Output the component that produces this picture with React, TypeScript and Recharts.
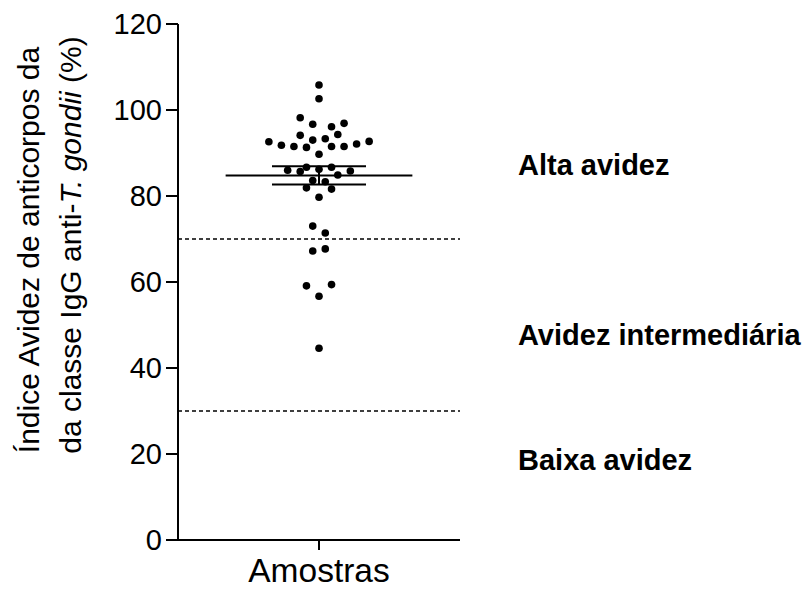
import React from 'react';
import { ScatterChart, Scatter, XAxis, YAxis, ReferenceLine } from 'recharts';

const categories = ['Amostras'];
const yTicks = [0, 20, 40, 60, 80, 100, 120];
const cutoffs = [70, 30];
const zoneLabels = ['Alta avidez', 'Avidez intermediária', 'Baixa avidez'];

// avidity index (%) for each sample
const values = [
  105.8, 102.6, 98.2, 96.7, 96.1, 96.9, 94.1, 94.3, 93.0, 93.3,
  92.6, 91.8, 91.5, 91.3, 91.5, 91.5, 92.1, 92.7, 89.7, 86.0,
  85.7, 86.7, 86.2, 86.7, 85.8, 84.9, 83.6, 83.3, 81.9, 81.6,
  79.7, 73.0, 71.4, 67.2, 67.7, 59.1, 59.4, 56.7, 44.6,
];
// beeswarm column of each sample (scatter spread around the category)
const columns = [
  0, 0, -3, -1, 2, 4, -3, 3, -1, 1,
  -8, -6, -4, -2, 2, 4, 6, 8, 0, -5,
  -3, -2, 0, 2, 5, 3, -1, 1, -2, 2,
  0, -1, 1, -1, 1, -2, 2, 0, 0,
];

const data = values.map((v, i) => ({ col: columns[i], value: v }));
const mean = values.reduce((a, b) => a + b, 0) / values.length;
const sd = Math.sqrt(values.reduce((a, b) => a + (b - mean) ** 2, 0) / (values.length - 1));
const sem = sd / Math.sqrt(values.length);

const FONT = '"Liberation Sans", Arial, Helvetica, sans-serif';
const W = 805;
const H = 590;

const Dot = (props: any) => {
  const { cx, cy } = props;
  return <circle cx={cx} cy={cy} r={3.8} fill="#000" />;
};

export default function App() {
  return (
    <div style={{ position: 'absolute', left: 0, top: 0, width: W, height: H, background: '#fff' }}>
      <ScatterChart width={W} height={H} margin={{ top: 24, right: 345, bottom: 0, left: 0 }}>
        <XAxis
          type="number"
          dataKey="col"
          domain={[-22.5, 22.5]}
          ticks={[0]}
          tickFormatter={() => categories[0]}
          height={50}
          stroke="#000"
          strokeWidth={2}
          tickSize={10}
          tickMargin={8}
          tick={{ fontSize: 33.5, fill: '#000', fontFamily: FONT }}
          allowDataOverflow
        />
        <YAxis
          type="number"
          dataKey="value"
          domain={[0, 120]}
          ticks={yTicks}
          width={178}
          stroke="#000"
          strokeWidth={2}
          tickSize={12}
          tickMargin={4}
          tick={{ fontSize: 29, fill: '#000', fontFamily: FONT }}
          allowDataOverflow
        />
        {cutoffs.map((c) => (
          <ReferenceLine key={c} y={c} stroke="#000" strokeWidth={1.5} strokeDasharray="4 3" />
        ))}
        <ReferenceLine
          segment={[{ x: -14.9, y: mean }, { x: 14.9, y: mean }]}
          stroke="#000"
          strokeWidth={2}
        />
        <ReferenceLine
          segment={[{ x: -7.5, y: mean + sem }, { x: 7.5, y: mean + sem }]}
          stroke="#000"
          strokeWidth={2}
        />
        <ReferenceLine
          segment={[{ x: -7.5, y: mean - sem }, { x: 7.5, y: mean - sem }]}
          stroke="#000"
          strokeWidth={2}
        />
        <ReferenceLine
          segment={[{ x: 0, y: mean - sem }, { x: 0, y: mean + sem }]}
          stroke="#000"
          strokeWidth={2}
        />
        <Scatter data={data} dataKey="value" shape={<Dot />} isAnimationActive={false} />
      </ScatterChart>
      <svg
        width={W}
        height={H}
        style={{ position: 'absolute', left: 0, top: 0, pointerEvents: 'none' }}
        fontFamily={FONT}
      >
        <text transform="translate(39,250) rotate(-90)" textAnchor="middle" fontSize={30} fill="#000">
          Índice Avidez de anticorpos da
        </text>
        <text transform="translate(81,245) rotate(-90)" textAnchor="middle" fontSize={30} fill="#000">
          da classe IgG anti-<tspan fontStyle="italic">T. gondii</tspan> (%)
        </text>
        <text x={518} y={175} fontSize={29} fontWeight="bold" fill="#000">{zoneLabels[0]}</text>
        <text x={518} y={345} fontSize={29} fontWeight="bold" fill="#000">{zoneLabels[1]}</text>
        <text x={518} y={470} fontSize={29} fontWeight="bold" fill="#000">{zoneLabels[2]}</text>
      </svg>
    </div>
  );
}
